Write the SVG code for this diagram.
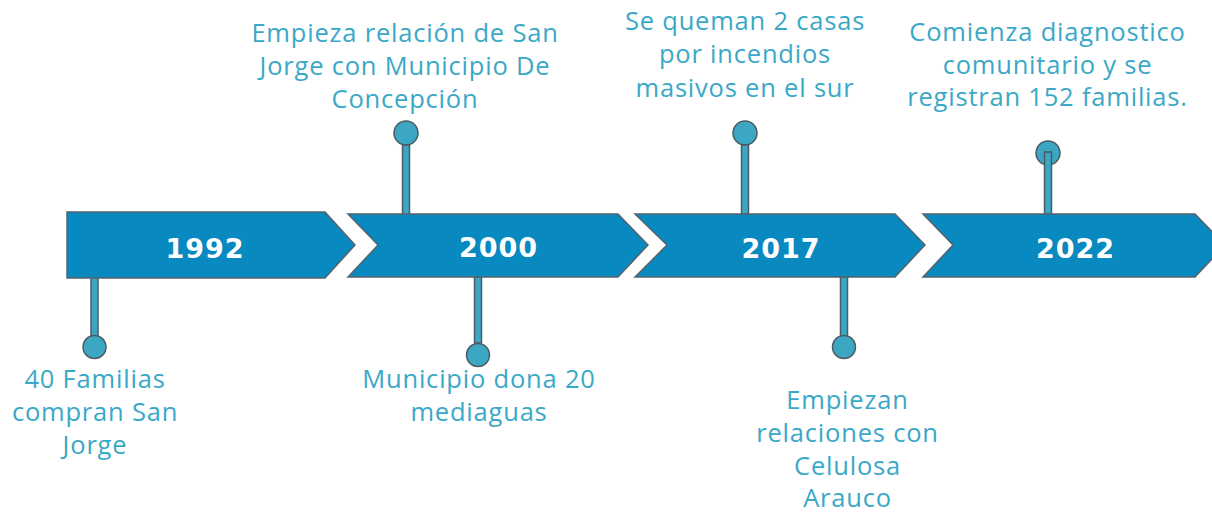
<svg xmlns="http://www.w3.org/2000/svg" width="1212" height="514" viewBox="0 0 1212 514">
<style>
.arrow{fill:#0889C0;stroke:#56626C;stroke-width:1.5}
.stem{fill:#3BA7C3;stroke:#4E5A64;stroke-width:1.5}
.year{font-family:"DejaVu Sans",sans-serif;font-weight:bold;font-size:27px;letter-spacing:1px;fill:#FFFFFF;text-anchor:middle}
.lbl{font-family:"Open Sans","Liberation Sans",sans-serif;font-size:25.5px;letter-spacing:0.8px;fill:#3AA8C7;text-anchor:middle}
</style>
<rect width="1212" height="514" fill="#FFFFFF"/>
<g id="connectors">
  <rect class="stem" x="91" y="277" width="7" height="60"/>
  <circle class="stem" cx="94.5" cy="347" r="11.5"/>
  <circle class="stem" cx="406" cy="133" r="12"/>
  <rect class="stem" x="402.5" y="145" width="7" height="72"/>
  <rect class="stem" x="474.5" y="277" width="7" height="66"/>
  <circle class="stem" cx="478" cy="355" r="11.5"/>
  <circle class="stem" cx="745" cy="133" r="12"/>
  <rect class="stem" x="741.5" y="145" width="7" height="72"/>
  <rect class="stem" x="840.5" y="277" width="7" height="60"/>
  <circle class="stem" cx="844" cy="347" r="11.5"/>
  <circle class="stem" cx="1048" cy="153" r="12"/>
  <rect class="stem" x="1044.5" y="152" width="7" height="66"/>
</g>
<g id="node-1992">
  <polygon class="arrow" points="67,212 325,212 355,245 325,278 67,278"/>
  <text class="year" x="205" y="258">1992</text>
  <text class="lbl"><tspan x="95" y="388">40 Familias</tspan><tspan x="95" y="421">compran San</tspan><tspan x="95" y="454">Jorge</tspan></text>
</g>
<g id="node-2000">
  <polygon class="arrow" points="348,214 618,214 648,245 618,277 348,277 378,245"/>
  <text class="year" x="498.5" y="257">2000</text>
  <text class="lbl"><tspan x="405" y="42">Empieza relación de San</tspan><tspan x="405" y="75">Jorge con Municipio De</tspan><tspan x="405" y="108">Concepción</tspan></text>
  <text class="lbl"><tspan x="479" y="388">Municipio dona 20</tspan><tspan x="479" y="421">mediaguas</tspan></text>
</g>
<g id="node-2017">
  <polygon class="arrow" points="635,214 895,214 925,245 895,277 635,277 667,245"/>
  <text class="year" x="781" y="258">2017</text>
  <text class="lbl"><tspan x="745" y="30">Se queman 2 casas</tspan><tspan x="745" y="63">por incendios</tspan><tspan x="745" y="97">masivos en el sur</tspan></text>
  <text class="lbl"><tspan x="847.5" y="409">Empiezan</tspan><tspan x="847.5" y="442">relaciones con</tspan><tspan x="847.5" y="475">Celulosa</tspan><tspan x="847.5" y="507">Arauco</tspan></text>
</g>
<g id="node-2022">
  <polygon class="arrow" points="923,214 1195,214 1225,245 1195,277 923,277 953,245"/>
  <text class="year" x="1075.5" y="258">2022</text>
  <text class="lbl"><tspan x="1047.5" y="41">Comienza diagnostico</tspan><tspan x="1047.5" y="74">comunitario y se</tspan><tspan x="1047.5" y="106">registran 152 familias.</tspan></text>
</g>
</svg>
